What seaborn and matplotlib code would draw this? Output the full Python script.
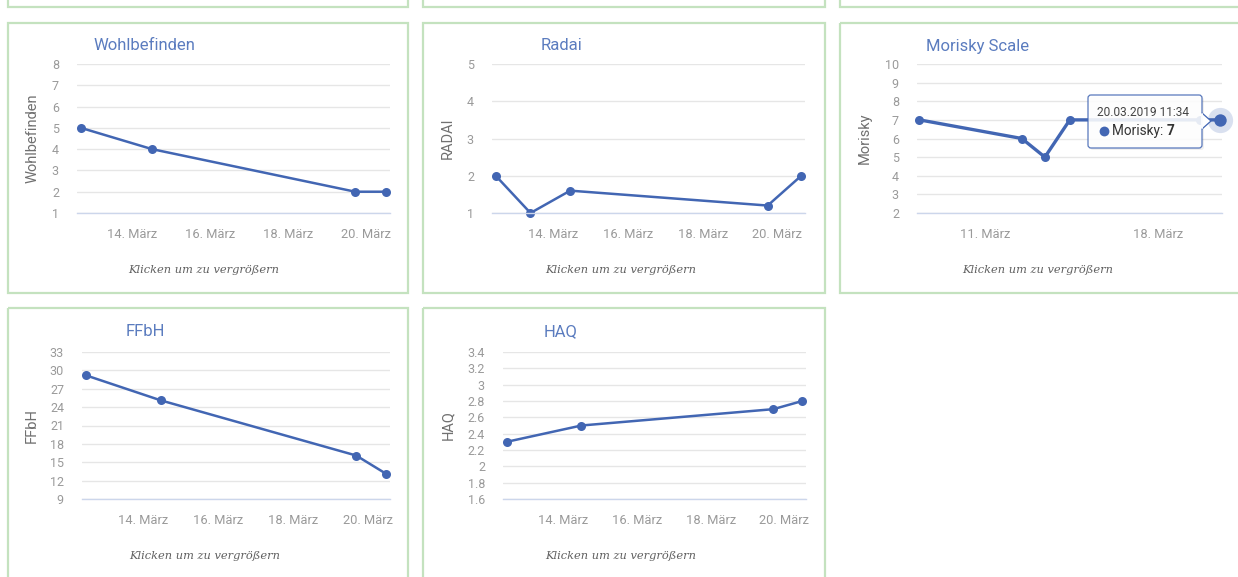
import pandas as pd
import matplotlib
matplotlib.use('Agg')
import matplotlib.pyplot as plt
import matplotlib.dates as mdates
from matplotlib.patches import Rectangle, FancyBboxPatch, Polygon
import seaborn as sns

# values (March 2019)
wohl_dates = ['2019-03-12 16:20', '2019-03-14 12:10', '2019-03-19 17:15', '2019-03-20 12:15']
wohl_values = [5, 4, 2, 2]
wohl_yticks = [1, 2, 3, 4, 5, 6, 7, 8]

radai_dates = ['2019-03-12 11:00', '2019-03-13 09:20', '2019-03-14 10:50', '2019-03-19 17:45', '2019-03-20 15:20']
radai_values = [2, 1, 1.6, 1.2, 2]
radai_yticks = [1, 2, 3, 4, 5]

morisky_dates = ['2019-03-08 08:50', '2019-03-12 12:00', '2019-03-13 10:20', '2019-03-14 10:30',
                 '2019-03-19 16:50', '2019-03-20 11:34']
morisky_values = [7, 6, 5, 7, 7, 7]
morisky_yticks = [2, 3, 4, 5, 6, 7, 8, 9, 10]

ffbh_dates = ['2019-03-12 11:30', '2019-03-14 11:30', '2019-03-19 16:20', '2019-03-20 11:34']
ffbh_values = [29.2, 25.1, 16.1, 13.1]
ffbh_yticks = [9, 12, 15, 18, 21, 24, 27, 30, 33]

haq_dates = ['2019-03-12 11:00', '2019-03-14 11:45', '2019-03-19 16:50', '2019-03-20 11:45']
haq_values = [2.3, 2.5, 2.7, 2.8]
haq_yticks = [1.6, 1.8, 2.0, 2.2, 2.4, 2.6, 2.8, 3.0, 3.2, 3.4]

sns.set_style('white')
plt.rcParams['font.family'] = ['Roboto', 'DejaVu Sans']

W, H = 1238, 577
BLUE = '#4266b3'
TITLE = '#5b7cbf'
GREEN = '#c4e2bf'


def frac(x0, y0, x1, y1):
    return [x0 / W, 1 - y1 / H, (x1 - x0) / W, (y1 - y0) / H]


fig = plt.figure(figsize=(W / 100, H / 100), dpi=100)

# background layer with the green card borders (pixel coordinates)
bg = fig.add_axes([0, 0, 1, 1], zorder=0)
bg.set_xlim(0, W)
bg.set_ylim(H, 0)
bg.axis('off')
cols = [(8, 408), (423, 825), (840, 1250)]
rows = [(-100, 7), (23, 293), (308, 700)]
for ri, (y0, y1) in enumerate(rows):
    for ci, (x0, x1) in enumerate(cols):
        if ri == 2 and ci == 2:
            continue
        bg.add_patch(Rectangle((x0, y0), x1 - x0, y1 - y0, fill=False,
                               edgecolor=GREEN, lw=1.6))

charts = [
    dict(title='Wohlbefinden', ylabel='Wohlbefinden', dates=wohl_dates, values=wohl_values,
         yticks=wohl_yticks, days=[14, 16, 18, 20], box=(77, 64, 390, 213),
         tx=144, ty=46, lx=33, kx=204, ky=270),
    dict(title='Radai', ylabel='RADAI', dates=radai_dates, values=radai_values,
         yticks=radai_yticks, days=[14, 16, 18, 20], box=(492, 64, 805, 213),
         tx=561, ty=46, lx=448, kx=621, ky=270),
    dict(title='Morisky Scale', ylabel='Morisky', dates=morisky_dates, values=morisky_values,
         yticks=morisky_yticks, days=[11, 18], box=(917, 64, 1222, 213),
         tx=978, ty=46, lx=865, kx=1038, ky=270),
    dict(title='FFbH', ylabel='FFbH', dates=ffbh_dates, values=ffbh_values,
         yticks=ffbh_yticks, days=[14, 16, 18, 20], box=(82, 352, 390, 499),
         tx=145, ty=332, lx=32, kx=205, ky=556),
    dict(title='HAQ', ylabel='HAQ', dates=haq_dates, values=haq_values,
         yticks=haq_yticks, days=[14, 16, 18, 20], box=(503, 352, 806, 499),
         tx=561, ty=332, lx=448, kx=621, ky=556),
]

axes = []
for c in charts:
    x0, y0, x1, y1 = c['box']
    ax = fig.add_axes(frac(x0, y0, x1, y1), zorder=2)
    ax.patch.set_alpha(0)
    df = pd.DataFrame({'date': pd.to_datetime(c['dates']), 'value': c['values']})
    lw = 2.4 if c['title'] == 'Morisky Scale' else 1.8
    sns.lineplot(data=df, x='date', y='value', ax=ax, color=BLUE, lw=lw, marker='o',
                 markersize=6.5, markeredgewidth=0, clip_on=False)
    ax.set_ylim(c['yticks'][0], c['yticks'][-1])
    ax.set_yticks(c['yticks'])
    ax.set_yticklabels([f'{v:g}' for v in c['yticks']])
    pad = pd.Timedelta(hours=2.4)
    ax.set_xlim(df['date'].min() - pad, df['date'].max() + pad)
    ax.xaxis.set_major_locator(mdates.DayLocator(bymonthday=c['days']))
    ax.xaxis.set_major_formatter(mdates.DateFormatter('%d. März'))
    ax.grid(axis='y', color='#e6e6e6', lw=1)
    ax.grid(axis='x', visible=False)
    ax.set_axisbelow(True)
    for s in ['top', 'right', 'left']:
        ax.spines[s].set_visible(False)
    ax.spines['bottom'].set_color('#ccd6eb')
    ax.spines['bottom'].set_linewidth(1)
    ax.tick_params(axis='x', length=8, color='#ccd6eb', width=1, pad=3,
                   labelsize=9.3, labelcolor='#9a9a9a', direction='out')
    ax.tick_params(axis='y', length=0, pad=13, labelsize=9, labelcolor='#9a9a9a')
    ax.set_xlabel('')
    ax.set_ylabel(c['ylabel'], fontsize=10.5, color='#707070')
    ax.yaxis.label.set_va('center')
    ax.yaxis.set_label_coords((c['lx'] - x0) / (x1 - x0), 0.5)

    bg.text(c['tx'], c['ty'], c['title'], ha='center', va='center', fontsize=12, color=TITLE)
    bg.text(c['kx'], c['ky'], 'Klicken um zu vergrößern', ha='center', va='center',
            fontsize=8.2, color='#606060', style='italic', family='DejaVu Serif')
    axes.append(ax)

# hovered point on the Morisky chart
mx = axes[2]
last_date = pd.to_datetime(morisky_dates[-1])
mx.scatter([last_date], [morisky_values[-1]], s=330, color=BLUE, alpha=0.2,
           linewidths=0, clip_on=False, zorder=5)
mx.scatter([last_date], [morisky_values[-1]], s=80, color=BLUE, linewidths=0,
           clip_on=False, zorder=6)

# tooltip overlay (pixel coordinates)
ov = fig.add_axes([0, 0, 1, 1], zorder=10)
ov.set_xlim(0, W)
ov.set_ylim(H, 0)
ov.axis('off')
ov.patch.set_alpha(0)
ov.add_patch(FancyBboxPatch((1090, 97), 114, 53, boxstyle='round,pad=0,rounding_size=3',
                            facecolor='#000000', alpha=0.06, edgecolor='none'))
ov.add_patch(FancyBboxPatch((1088, 95), 114, 53, boxstyle='round,pad=0,rounding_size=3',
                            facecolor='white', alpha=0.88, edgecolor=BLUE, lw=0.9))
ov.add_patch(Polygon([(1202, 113), (1211, 121), (1202, 129)], closed=True,
                     facecolor='white', edgecolor=BLUE, lw=0.9))
ov.plot([1202, 1202], [113.8, 128.2], color='white', lw=1.4)
ov.text(1097, 113, last_date.strftime('%d.%m.%Y %H:%M'), ha='left', va='center',
        fontsize=8.6, color='#444444')
ov.scatter([1104], [131], s=50, color=BLUE, linewidths=0)
t = ov.text(1112, 131, 'Morisky: ', ha='left', va='center', fontsize=9.8, color='#333333')
ov.annotate(f'{morisky_values[-1]:g}', xy=(1, 0.5), xycoords=t, ha='left', va='center',
            fontsize=9.8, color='#333333', fontweight='bold')

fig.savefig('out.png', dpi=100, facecolor='white')
